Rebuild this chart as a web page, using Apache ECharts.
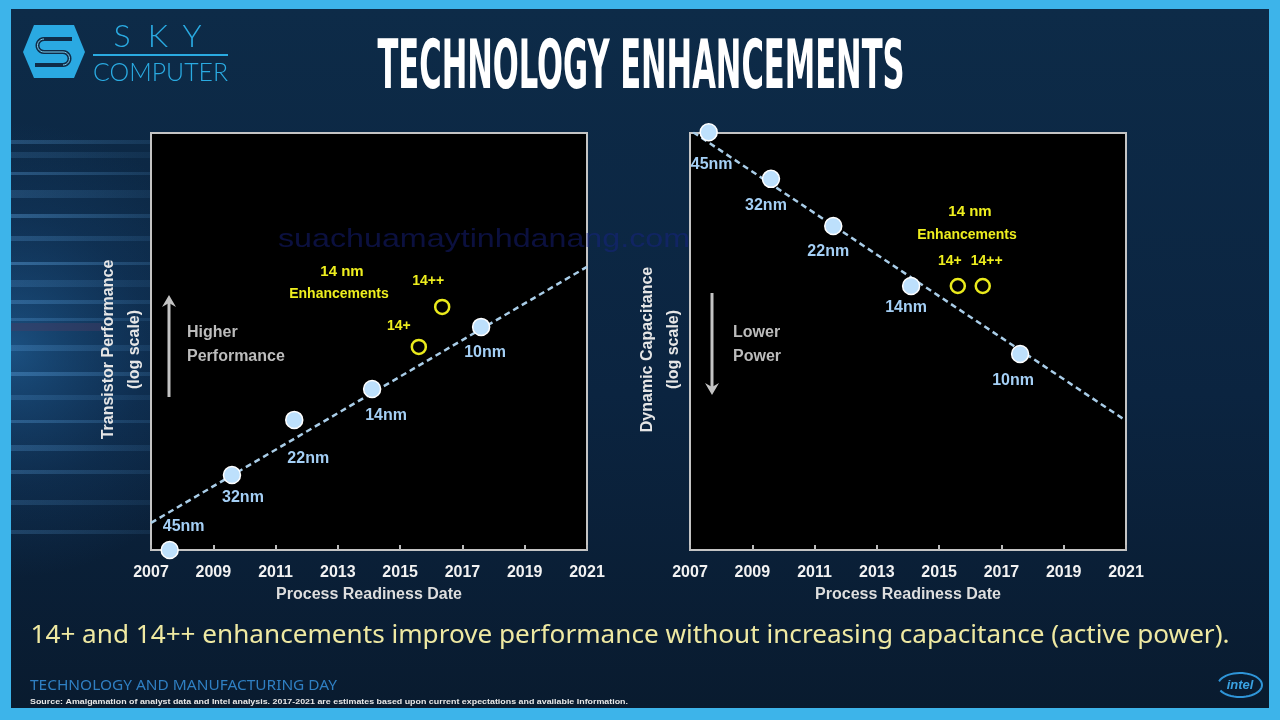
<!DOCTYPE html>
<html><head><meta charset="utf-8">
<script src="https://cdn.jsdelivr.net/npm/echarts@6/dist/echarts.min.js"></script>
<style>html,body{margin:0;padding:0;background:#3db4ea;overflow:hidden}#c{width:1280px;height:720px}</style>
</head><body><div id="c"></div>
<script>
// ---- data ----
const yearTicks = [2007, 2009, 2011, 2013, 2015, 2017, 2019, 2021];
const nodes = ['45nm', '32nm', '22nm', '14nm', '10nm'];
const nodeYears = [2007.6, 2009.6, 2011.6, 2014.1, 2017.6];
const perfValues = [0, 18, 31.2, 38.6, 53.5];
const capValues = [100.2, 89, 77.7, 63.3, 47];
const enhNames = ['14+', '14++'];
const perfEnhYears = [2015.6, 2016.35];
const perfEnhValues = [48.7, 58.3];
const capEnhYears = [2015.6, 2016.4];
const capEnhValues = [63.3, 63.3];
const perfTrendYears = [2007, 2021];
const perfTrendValues = [6.5, 67.9];
const capTrendYears = [2007.1, 2021];
const capTrendValues = [100.2, 31];

// ---- layout / style helpers ----
const FONT = '"Liberation Sans", Arial, sans-serif';
const mctx = document.createElement('canvas').getContext('2d');
function fit(text, font, w) { mctx.font = font; return w / mctx.measureText(text).width; }

const perfLabelOffsets = [[14, -23], [11, 23], [14, 39], [14, 27], [4, 26]];
const capLabelOffsets = [[3, 32], [-5, 27], [-5, 26], [-5, 22], [-7, 27]];
const perfEnhOffsets = [[-20, -21], [-14, -26]];
const capEnhOffsets = [[-8, -25], [4, -25]];

function xAxis(gi) {
  return {
    type: 'value', gridIndex: gi,
    min: yearTicks[0], max: yearTicks[yearTicks.length - 1], interval: yearTicks[1] - yearTicks[0],
    name: 'Process Readiness Date', nameLocation: 'middle', nameGap: 37,
    nameTextStyle: { color: '#dedede', fontFamily: FONT, fontWeight: 'bold', fontSize: 16 },
    axisLine: { show: true, lineStyle: { color: '#c4c4c4', width: 2 } },
    axisTick: { show: true, inside: true, length: 5, lineStyle: { color: '#bdbdbd', width: 2 } },
    axisLabel: { color: '#f2f2f2', fontFamily: FONT, fontWeight: 'bold', fontSize: 16, margin: 15,
      showMinLabel: true, showMaxLabel: true, formatter: v => String(v) },
    splitLine: { show: false }
  };
}
function yAxis(gi, name) {
  return {
    type: 'value', gridIndex: gi, min: 0, max: 100,
    name: name, nameLocation: 'middle', nameGap: 3,
    nameTextStyle: { color: '#e6e6e6', fontFamily: FONT, fontWeight: 'bold', fontSize: 16, lineHeight: 26, padding: [0, 16, 0, 0] },
    axisLine: { show: false }, axisTick: { show: false }, axisLabel: { show: false }, splitLine: { show: false }
  };
}
function nodeSeries(i, vals, offs) {
  return {
    type: 'scatter', xAxisIndex: i, yAxisIndex: i, symbolSize: 17, clip: false, z: 5,
    itemStyle: { color: '#bde0fc', borderColor: '#ffffff', borderWidth: 1.5, opacity: 1 },
    label: { show: true, position: 'inside', formatter: '{b}', color: '#a4cff5', fontFamily: FONT, fontWeight: 'bold', fontSize: 16 },
    data: nodes.map((n, k) => ({ name: n, value: [nodeYears[k], vals[k]], label: { offset: offs[k] } }))
  };
}
function enhSeries(i, yrs, vals, offs) {
  return {
    type: 'scatter', xAxisIndex: i, yAxisIndex: i, symbol: 'circle', symbolSize: 14, clip: false, z: 5,
    itemStyle: { color: 'rgba(0,0,0,0)', borderColor: '#eaea1c', borderWidth: 2.5, opacity: 1 },
    label: { show: true, position: 'inside', formatter: '{b}', color: '#eeee1e', fontFamily: FONT, fontWeight: 'bold', fontSize: 14 },
    data: enhNames.map((n, k) => ({ name: n, value: [yrs[k], vals[k]], label: { offset: offs[k] } }))
  };
}
function trendSeries(i, yrs, vals) {
  return {
    type: 'line', xAxisIndex: i, yAxisIndex: i, showSymbol: false, symbol: 'none', z: 3, silent: true,
    lineStyle: { color: '#a9cde8', width: 2.5, type: [6, 4] },
    data: yrs.map((y, k) => [y, vals[k]])
  };
}

// ---- decorative graphics ----
const g = [];
g.push({ type: 'rect', z: -20, shape: { x: 0, y: 0, width: 1280, height: 720 }, style: { fill: '#3db4ea' } });
g.push({ type: 'rect', z: -19, shape: { x: 11, y: 9, width: 1258, height: 699 },
  style: { fill: new echarts.graphic.LinearGradient(0, 0, 0, 1, [
    { offset: 0, color: '#0d2b48' }, { offset: 0.55, color: '#0b2440' }, { offset: 1, color: '#091b2f' }]) } });
g.push({ type: 'rect', z: -18, shape: { x: 11, y: 100, width: 380, height: 500 },
  style: { fill: new echarts.graphic.RadialGradient(0, 0.5, 0.6, [
    { offset: 0, color: 'rgba(40,115,180,0.55)' }, { offset: 0.6, color: 'rgba(30,90,150,0.18)' }, { offset: 1, color: 'rgba(30,90,150,0)' }]) } });
const streaks = [[140, 4, 0.3], [152, 6, 0.18], [172, 3, 0.35], [190, 8, 0.22], [214, 4, 0.4], [236, 5, 0.28], [262, 3, 0.45], [280, 7, 0.22],
  [300, 4, 0.35], [318, 3, 0.3], [345, 6, 0.28], [372, 4, 0.4], [395, 5, 0.22], [420, 3, 0.35], [445, 6, 0.28], [470, 4, 0.3], [500, 5, 0.22], [530, 4, 0.25]];
streaks.forEach(s => g.push({ type: 'rect', z: -17, shape: { x: 11, y: s[0], width: 240, height: s[1] },
  style: { fill: new echarts.graphic.LinearGradient(0, 0, 1, 0, [
    { offset: 0, color: 'rgba(90,160,220,' + s[2] + ')' }, { offset: 1, color: 'rgba(90,160,220,0)' }]) } }));
g.push({ type: 'rect', z: -16, shape: { x: 11, y: 323, width: 90, height: 8 }, style: { fill: 'rgba(70,60,100,0.45)' } });

// logo
function arcPts(cx, cy, r, a0, a1, n) { const p = []; for (let i = 0; i <= n; i++) { const a = a0 + (a1 - a0) * i / n; p.push([cx + r * Math.cos(a), cy + r * Math.sin(a)]); } return p; }
const sPts = [[72, 39]].concat(arcPts(44, 45.5, 6.5, -Math.PI / 2, -Math.PI * 1.5, 12), arcPts(63, 58.5, 6.5, -Math.PI / 2, Math.PI / 2, 12), [[35, 65]]);
g.push({ type: 'polygon', z: 10, shape: { points: [[23, 52], [34, 25], [74, 25], [85, 52], [74, 78], [34, 78]] }, style: { fill: '#2aa9e2' } });
g.push({ type: 'polyline', z: 11, shape: { points: sPts }, style: { fill: 'none', stroke: '#0f2c48', lineWidth: 4 } });
g.push({ type: 'polyline', z: 12, shape: { points: sPts.slice(1, sPts.length - 1) }, style: { fill: 'none', stroke: '#7fd0f2', lineWidth: 1 } });
[['S', 122], ['K', 158], ['Y', 192]].forEach(a => g.push({ type: 'text', z: 10, x: a[1], y: 37,
  style: { text: a[0], fill: '#2aabe2', font: '300 32px Lato, "Open Sans", sans-serif', textAlign: 'center', textVerticalAlign: 'middle' } }));
g.push({ type: 'line', z: 10, shape: { x1: 93, y1: 55, x2: 228, y2: 55 }, style: { stroke: '#2aabe2', lineWidth: 2 } });
const compFont = '300 26px Lato, "Open Sans", sans-serif';
g.push({ type: 'text', z: 10, x: 160.5, y: 73, scaleX: fit('COMPUTER', compFont, 135),
  style: { text: 'COMPUTER', fill: '#2aabe2', font: compFont, textAlign: 'center', textVerticalAlign: 'middle' } });

// title
const titleFont = 'bold 68px "Liberation Sans Narrow", "DejaVu Sans Condensed", sans-serif';
g.push({ type: 'text', z: 10, x: 641, y: 70, scaleX: fit('TECHNOLOGY ENHANCEMENTS', titleFont, 527),
  style: { text: 'TECHNOLOGY ENHANCEMENTS', fill: '#ffffff', font: titleFont, textAlign: 'center', textVerticalAlign: 'middle' } });

// watermark
const wmFont = '26px "Liberation Sans", sans-serif';
g.push({ type: 'text', z: 9, x: 278, y: 240, scaleX: fit('suachuamaytinhdanang.com', wmFont, 412),
  style: { text: 'suachuamaytinhdanang.com', fill: 'rgba(25,35,140,0.45)', font: wmFont, textAlign: 'left', textVerticalAlign: 'middle' } });

// annotations
function txt(x, y, t, color, size, align) {
  g.push({ type: 'text', z: 10, x: x, y: y, style: { text: t, fill: color, font: 'bold ' + size + 'px ' + FONT, textAlign: align || 'center', textVerticalAlign: 'middle' } });
}
txt(342, 272, '14 nm', '#eeee1e', 15);
txt(339, 294, 'Enhancements', '#eeee1e', 14);
txt(970, 212, '14 nm', '#eeee1e', 15);
txt(967, 235, 'Enhancements', '#eeee1e', 14);
txt(187, 333, 'Higher', '#bcbcbc', 16, 'left');
txt(187, 357, 'Performance', '#bcbcbc', 16, 'left');
txt(733, 333, 'Lower', '#bcbcbc', 16, 'left');
txt(733, 357, 'Power', '#bcbcbc', 16, 'left');
// arrows
g.push({ type: 'line', z: 10, shape: { x1: 169, y1: 397, x2: 169, y2: 302 }, style: { stroke: '#c4c4c4', lineWidth: 3 } });
g.push({ type: 'polygon', z: 10, shape: { points: [[162, 307], [169, 295], [176, 307], [169, 303]] }, style: { fill: '#c4c4c4' } });
g.push({ type: 'line', z: 10, shape: { x1: 712, y1: 293, x2: 712, y2: 388 }, style: { stroke: '#c4c4c4', lineWidth: 3 } });
g.push({ type: 'polygon', z: 10, shape: { points: [[705, 383], [712, 395], [719, 383], [712, 387]] }, style: { fill: '#c4c4c4' } });

// caption & footer
const capText = '14+ and 14++ enhancements improve performance without increasing capacitance (active power).';
const capFont = '25px "Noto Sans", "Open Sans", sans-serif';
g.push({ type: 'text', z: 10, x: 630, y: 636, scaleX: fit(capText, capFont, 1199),
  style: { text: capText, fill: '#efe9a2', font: capFont, textAlign: 'center', textVerticalAlign: 'middle' } });
const ftFont = '15px "Noto Sans", sans-serif';
g.push({ type: 'text', z: 10, x: 30, y: 686, scaleX: fit('TECHNOLOGY AND MANUFACTURING DAY', ftFont, 307),
  style: { text: 'TECHNOLOGY AND MANUFACTURING DAY', fill: '#2f7fc2', font: ftFont, textAlign: 'left', textVerticalAlign: 'middle' } });
const srcText = 'Source: Amalgamation of analyst data and Intel analysis. 2017-2021 are estimates based upon current expectations and available Information.';
const srcFont = 'bold 8px "Liberation Sans Narrow", "Liberation Sans", sans-serif';
g.push({ type: 'text', z: 10, x: 30, y: 702, scaleX: fit(srcText, srcFont, 598),
  style: { text: srcText, fill: '#e8e8e8', font: srcFont, textAlign: 'left', textVerticalAlign: 'middle' } });
// intel logo
const ell = []; for (let i = 0; i <= 40; i++) { const a = -0.9 * Math.PI + 1.75 * Math.PI * i / 40; ell.push([1240 + 22 * Math.cos(a), 685 + 12 * Math.sin(a)]); }
g.push({ type: 'polyline', z: 10, shape: { points: ell }, style: { fill: 'none', stroke: '#2f95d8', lineWidth: 2 } });
g.push({ type: 'text', z: 10, x: 1240, y: 685, style: { text: 'intel', fill: '#3aa2e2', font: 'italic bold 13px ' + FONT, textAlign: 'center', textVerticalAlign: 'middle' } });

const grid = (left) => ({ left: left, top: 133, width: 436, height: 417, show: true, backgroundColor: '#000000', borderColor: '#c4c4c4', borderWidth: 2, containLabel: false });

const option = {
  animation: false,
  backgroundColor: 'transparent',
  grid: [grid(151), grid(690)],
  xAxis: [xAxis(0), xAxis(1)],
  yAxis: [yAxis(0, 'Transistor Performance\n(log scale)'), yAxis(1, 'Dynamic Capacitance\n(log scale)')],
  graphic: { elements: g },
  series: [
    trendSeries(0, perfTrendYears, perfTrendValues),
    trendSeries(1, capTrendYears, capTrendValues),
    nodeSeries(0, perfValues, perfLabelOffsets),
    nodeSeries(1, capValues, capLabelOffsets),
    enhSeries(0, perfEnhYears, perfEnhValues, perfEnhOffsets),
    enhSeries(1, capEnhYears, capEnhValues, capEnhOffsets)
  ]
};
const chart = echarts.init(document.getElementById('c'), null, { renderer: 'canvas' });
chart.setOption(option);
</script>
</body></html>
